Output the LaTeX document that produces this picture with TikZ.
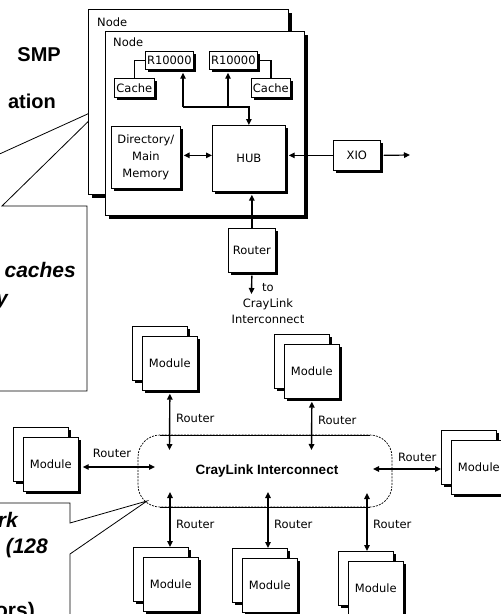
\documentclass[tikz,border=0pt]{standalone}
\usepackage{fontspec}
\setmainfont{DejaVu Sans}
\newfontfamily\arialf{Liberation Sans}
\usetikzlibrary{arrows.meta,shadows,calc}
\tikzset{
  lbl/.style={font=\fontsize{11.5}{14}\selectfont, inner sep=0pt},
  box/.style={draw, fill=white, line width=0.7pt, inner sep=0pt, anchor=north west,
    font=\fontsize{11.5}{17}\selectfont, align=center,
    general shadow={fill=black, shadow xshift=3pt, shadow yshift=-3pt}},
  nodebox/.style={draw, fill=white, line width=0.7pt, inner sep=0pt, anchor=north west,
    general shadow={fill=black, shadow xshift=3.5pt, shadow yshift=-3.5pt}},
  modbox/.style={box, minimum width=55pt, minimum height=54pt},
  callout/.style={draw, fill=white, line width=0.8pt},
  bigtxt/.style={font=\arialf\bfseries\fontsize{20}{24}\selectfont, inner sep=0pt},
  bigit/.style={font=\arialf\bfseries\itshape\fontsize{21}{25}\selectfont, inner sep=0pt},
  wire/.style={line width=1.3pt},
  arr/.style={line width=1.4pt, -{Triangle[length=6pt,width=5.5pt]}},
  darr/.style={line width=1.4pt, {Triangle[length=6pt,width=5.5pt]}-{Triangle[length=6pt,width=5.5pt]}},
}
\newcommand\mymodule[3]{%
  \node[modbox] (#1b) at (#2-10,#3-10) {};
  \node[modbox] (#1) at (#2,#3) {Module};
}
\begin{document}
\begin{tikzpicture}[x=1pt,y=-1pt]
\useasboundingbox (0,0) rectangle (501,614);

% callouts (left, partly cut)
\draw[callout] (87,391) -- (87,206) -- (2,206) -- (103,107) -- (-115,206) -- (-115,391) -- cycle;
\draw[callout] (-20,503) -- (70,503) -- (70,523) -- (147,501) -- (70,554) -- (70,640) -- (-20,640) -- cycle;

\node[bigtxt, anchor=base east] (t1) at (61,61) {SMP};
\node[bigtxt, anchor=base east] (t2) at (56,108) {ation};
\node[bigit, anchor=base east] (c1) at (76,277) {caches};
\node[bigit, anchor=base east] (c2) at (8,305) {y};
\node[bigit, anchor=base east] (c3) at (18,527) {rk};
\node[bigit, anchor=base east] (c4) at (48,553) {(128};
\node[bigtxt, font=\arialf\bfseries\fontsize{21}{25}\selectfont, anchor=base east] (c5) at (35,617) {ors)};

% node boxes
\node[nodebox, minimum width=200pt, minimum height=185pt] (nodeB) at (88,9) {};
\node[lbl, anchor=west] (nodeBl) at (97,22) {Node};
\node[nodebox, minimum width=199pt, minimum height=184pt] (nodeF) at (105,31) {};
\node[lbl, anchor=west] (nodeFl) at (113,42) {Node};

\node[box, minimum width=48pt, minimum height=18pt] (cpuL) at (145,51) {R10000};
\node[box, minimum width=48pt, minimum height=18pt] (cpuR) at (209,51) {R10000};
\node[box, minimum width=40pt, minimum height=19pt] (cacheL) at (114,78) {Cache};
\node[box, minimum width=39pt, minimum height=19pt] (cacheR) at (251,78) {Cache};
\node[box, minimum width=69pt, minimum height=62pt] (dir) at (111,126) {Directory/\\Main\\Memory};
\node[box, minimum width=73pt, minimum height=66pt] (hub) at (212,125) {HUB};
\node[box, minimum width=47pt, minimum height=30pt] (xio) at (333,140) {XIO};
\node[box, minimum width=47pt, minimum height=44pt] (rtr) at (228,228) {Router};

\draw[wire] (cpuL.west) -| (cacheL.north);
\draw[wire] (cpuR.east) -| (cacheR.north);

\coordinate (bus) at (183,107);
\coordinate (busR) at (228,107);
\draw[arr] (bus) -- ($(bus |- cpuL.south)+(0,3)$);
\draw[arr] (busR) -- ($(busR |- cpuR.south)+(0,3)$);
\draw[arr] (bus) -| (hub.north);
\draw[darr] ($(dir.east)+(3,-2)$) -- ($(dir.east -| hub.west)+(0,-2)$);
\draw[arr, line width=1.2pt] (xio.west) -- ($(xio.west -| hub.east)+(3,0)$);
\coordinate (xout) at (410,155);
\draw[arr, line width=1.2pt] ($(xio.east)+(3,0)$) -- (xout);
\draw[arr] (rtr.north) -- ($(rtr.north |- hub.south)+(0,3)$);
\coordinate (toCL) at (251.5,294);
\draw[arr] ($(rtr.south)+(0,3)$) -- (toCL);
\node[lbl, align=center, font=\fontsize{11.5}{16}\selectfont] (tocl) at (268,304) {to\\CrayLink\\Interconnect};

% CrayLink interconnect
\draw[line width=0.7pt, dash pattern=on 2pt off 1.2pt, rounded corners=22pt] (138,435) rectangle (392,507);
\draw[line width=0.8pt] (160,435) -- (370,435);
\draw[line width=0.8pt] (160,507) -- (370,507);
\node[font=\arialf\bfseries\fontsize{13.5}{16}\selectfont, inner sep=0pt] (cl) at (267,471) {CrayLink Interconnect};

% modules
\mymodule{m1}{142}{336}
\mymodule{m2}{284}{344}
\mymodule{m3}{23}{437}
\mymodule{m4}{451}{440}
\mymodule{m5}{143}{557}
\mymodule{m6}{242}{558}
\mymodule{m7}{348}{561}

\coordinate (e1) at (169.5,450);
\coordinate (e2) at (311.5,450);
\coordinate (e3) at (155,467);
\coordinate (e4) at (373,469);
\coordinate (e5) at (170,492);
\coordinate (e6) at (268,492);
\coordinate (e7) at (367,493);
\draw[darr] ($(m1.south)+(0,3)$) -- (e1);
\draw[darr] ($(m2.south)+(0,3)$) -- (e2);
\draw[darr] ($(e3 -| m3.east)+(4,0)$) -- (e3);
\draw[darr] (e4) -- (e4 -| m4b.west);
\draw[darr] (e5) -- (e5 |- m5b.north);
\draw[darr] (e6) -- (e6 |- m6b.north);
\draw[darr] (e7) -- (e7 |- m7b.north);

\node[lbl, anchor=west] (r1) at (176,418) {Router};
\node[lbl, anchor=west] (r2) at (318,420) {Router};
\node[lbl] (r3) at (112,453) {Router};
\node[lbl, anchor=west] (r4) at (398,457) {Router};
\node[lbl, anchor=west] (r5) at (176,524) {Router};
\node[lbl, anchor=west] (r6) at (274,524) {Router};
\node[lbl, anchor=west] (r7) at (373,524) {Router};
\end{tikzpicture}
\end{document}
